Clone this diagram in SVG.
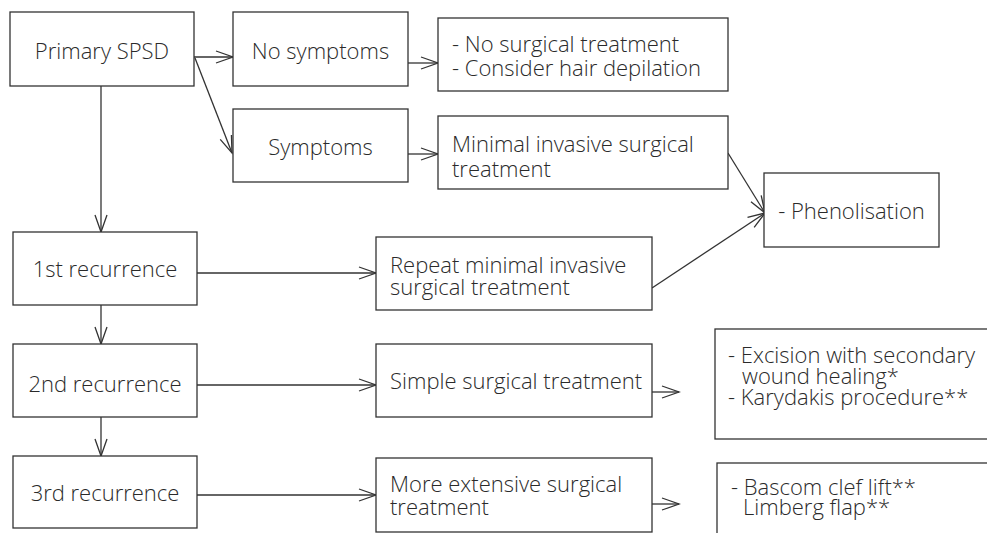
<svg xmlns="http://www.w3.org/2000/svg" width="987" height="533" viewBox="0 0 987 533">
  <style>
    .box { fill: #ffffff; stroke: #333333; stroke-width: 1.3; }
    .t { font-family: "Open Sans", "Liberation Sans", sans-serif; font-size: 22px; font-weight: 300; fill: #2a2a2a; }
    .c { text-anchor: middle; }
    .edge { fill: none; stroke: #333333; stroke-width: 1.3; }
  </style>
  <defs>
    <marker id="arrow" markerUnits="userSpaceOnUse" markerWidth="20" markerHeight="14" refX="18" refY="7" orient="auto" overflow="visible">
      <path d="M1,1 L18,7 L1,13" fill="none" stroke="#333333" stroke-width="1.3"/>
    </marker>
  </defs>
  <rect width="987" height="533" fill="#ffffff"/>

  <g id="connectors">
    <line class="edge" x1="194" y1="57" x2="233" y2="57" marker-end="url(#arrow)"/>
    <line class="edge" x1="195" y1="58" x2="232" y2="153" marker-end="url(#arrow)"/>
    <line class="edge" x1="408" y1="63" x2="438" y2="63" marker-end="url(#arrow)"/>
    <line class="edge" x1="408" y1="154" x2="438" y2="154" marker-end="url(#arrow)"/>
    <line class="edge" x1="728" y1="153" x2="765" y2="213" marker-end="url(#arrow)"/>
    <line class="edge" x1="652" y1="288" x2="765" y2="213" marker-end="url(#arrow)"/>
    <line class="edge" x1="101" y1="86" x2="101" y2="232" marker-end="url(#arrow)"/>
    <line class="edge" x1="101" y1="305" x2="101" y2="344" marker-end="url(#arrow)"/>
    <line class="edge" x1="101" y1="417" x2="101" y2="456" marker-end="url(#arrow)"/>
    <line class="edge" x1="197" y1="273" x2="376" y2="273" marker-end="url(#arrow)"/>
    <line class="edge" x1="197" y1="385" x2="376" y2="385" marker-end="url(#arrow)"/>
    <line class="edge" x1="197" y1="495" x2="376" y2="495" marker-end="url(#arrow)"/>
    <line class="edge" x1="652" y1="392" x2="679" y2="392" marker-end="url(#arrow)"/>
    <line class="edge" x1="652" y1="504" x2="679" y2="504" marker-end="url(#arrow)"/>
  </g>

  <g id="primary">
    <rect class="box" x="10" y="12" width="184" height="74"/>
    <text class="t c" x="102" y="59">Primary SPSD</text>
  </g>
  <g id="no-symptoms">
    <rect class="box" x="233" y="12" width="175" height="74"/>
    <text class="t c" x="320.5" y="59">No symptoms</text>
  </g>
  <g id="symptoms">
    <rect class="box" x="233" y="109" width="175" height="73"/>
    <text class="t c" x="320.5" y="155">Symptoms</text>
  </g>
  <g id="no-surgery">
    <rect class="box" x="438" y="18" width="290" height="73"/>
    <text class="t" x="452" y="52">- No surgical treatment</text>
    <text class="t" x="452" y="76">- Consider hair depilation</text>
  </g>
  <g id="minimal">
    <rect class="box" x="438" y="116" width="290" height="73"/>
    <text class="t" x="452" y="152">Minimal invasive surgical</text>
    <text class="t" x="452" y="177">treatment</text>
  </g>
  <g id="phenolisation">
    <rect class="box" x="764" y="173" width="175" height="74"/>
    <text class="t c" x="851.5" y="219">- Phenolisation</text>
  </g>
  <g id="recurrence-1">
    <rect class="box" x="13" y="232" width="184" height="73"/>
    <text class="t c" x="105" y="277">1st recurrence</text>
  </g>
  <g id="repeat">
    <rect class="box" x="376" y="237" width="276" height="73"/>
    <text class="t" x="390" y="273">Repeat minimal invasive</text>
    <text class="t" x="390" y="295">surgical treatment</text>
  </g>
  <g id="recurrence-2">
    <rect class="box" x="13" y="344" width="184" height="73"/>
    <text class="t c" x="105" y="392">2nd recurrence</text>
  </g>
  <g id="simple">
    <rect class="box" x="376" y="344" width="276" height="73"/>
    <text class="t" x="390" y="389">Simple surgical treatment</text>
  </g>
  <g id="excision">
    <rect class="box" x="715" y="329" width="290" height="110"/>
    <text class="t" x="728" y="363">- Excision with secondary</text>
    <text class="t" x="742" y="384">wound healing*</text>
    <text class="t" x="728" y="405">- Karydakis procedure**</text>
  </g>
  <g id="recurrence-3">
    <rect class="box" x="13" y="456" width="184" height="72"/>
    <text class="t c" x="105" y="501">3rd recurrence</text>
  </g>
  <g id="extensive">
    <rect class="box" x="376" y="458" width="276" height="74"/>
    <text class="t" x="390" y="492">More extensive surgical</text>
    <text class="t" x="390" y="515">treatment</text>
  </g>
  <g id="flaps">
    <rect class="box" x="717" y="463" width="290" height="90"/>
    <text class="t" x="731" y="495">- Bascom clef lift**</text>
    <text class="t" x="743" y="515">Limberg flap**</text>
  </g>
</svg>
